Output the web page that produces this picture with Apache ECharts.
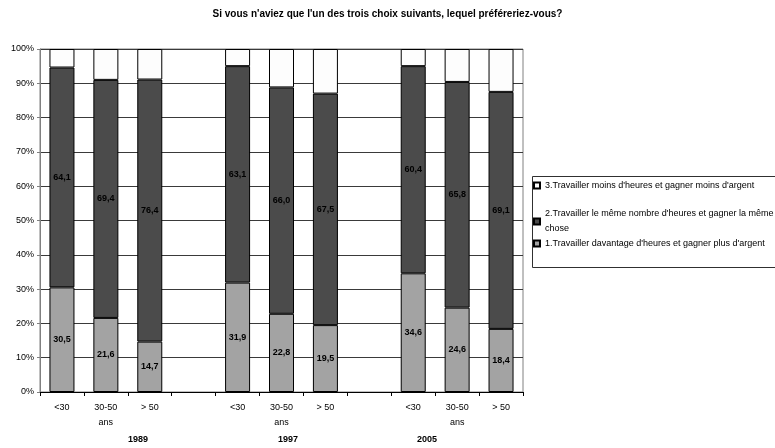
<!DOCTYPE html>
<html>
<head>
<meta charset="utf-8">
<script src="https://cdn.jsdelivr.net/npm/echarts@6/dist/echarts.min.js"></script>
<style>
  html, body { margin: 0; padding: 0; background: #fff; }
  #chart { width: 775px; height: 448px; }
</style>
</head>
<body>
<div id="chart"></div>
<script>
// Age groups per survey year; empty slots separate the years
const categories = ['<30', '30-50\nans', '> 50', '', '<30', '30-50\nans', '> 50', '', '<30', '30-50\nans', '> 50'];
const years = ['1989', '1997', '2005'];

const seriesNames = [
  '1.Travailler davantage d\'heures et gagner plus d\'argent',
  '2.Travailler le même nombre d\'heures et gagner la même chose',
  '3.Travailler moins d\'heures et gagner moins d\'argent'
];

// Shares in %
const plusValues  = [30.5, 21.6, 14.7, null, 31.9, 22.8, 19.5, null, 34.6, 24.6, 18.4];
const memeValues  = [64.1, 69.4, 76.4, null, 63.1, 66.0, 67.5, null, 60.4, 65.8, 69.1];
const moinsValues = [5.4, 9.0, 8.9, null, 5.0, 11.2, 13.0, null, 5.0, 9.6, 12.5];

const yTicks = { min: 0, max: 100, interval: 10 };

const FONT = '"Liberation Sans", Arial, sans-serif';
const fmt = v => v.toFixed(1).replace('.', ',');

const chart = echarts.init(document.getElementById('chart'), null, { renderer: 'canvas' });

const barBase = {
  type: 'bar',
  stack: 'total',
  barWidth: 25,
  itemStyle: { borderColor: '#000', borderWidth: 1 }
};

const legendBase = {
  orient: 'vertical',
  left: 533,
  padding: 0,
  icon: 'rect',
  itemWidth: 6,
  itemHeight: 6,
  itemGap: 4,
  selectedMode: false,
  textStyle: { fontFamily: FONT, fontSize: 9, color: '#000', lineHeight: 15 }
};

chart.setOption({
  animation: false,
  backgroundColor: '#fff',
  title: {
    text: 'Si vous n\'aviez que l\'un des trois choix suivants, lequel préféreriez-vous?',
    left: 'center',
    top: 4,
    textStyle: { fontFamily: FONT, fontSize: 10, fontWeight: 'bold', color: '#000' }
  },
  legend: [
    Object.assign({}, legendBase, { top: 178, data: [seriesNames[2]] }),
    Object.assign({}, legendBase, {
      top: 199,
      data: [seriesNames[1]],
      formatter: () => '2.Travailler le même nombre d\'heures et gagner la même\nchose',
      textStyle: Object.assign({}, legendBase.textStyle, { padding: [15, 0, 0, 0] })
    }),
    Object.assign({}, legendBase, { top: 236, data: [seriesNames[0]] })
  ],
  grid: {
    left: 40, right: 252, top: 49, bottom: 56,
    show: true, borderColor: '#808080', borderWidth: 1, backgroundColor: 'transparent'
  },
  xAxis: {
    type: 'category',
    data: categories,
    axisLine: { lineStyle: { color: '#000', width: 1 } },
    axisTick: { show: true, length: 4, lineStyle: { color: '#000' } },
    axisLabel: {
      interval: 0, fontFamily: FONT, fontSize: 9, color: '#000',
      margin: 8, lineHeight: 15
    }
  },
  yAxis: {
    type: 'value',
    min: yTicks.min, max: yTicks.max, interval: yTicks.interval,
    axisLine: { show: true, lineStyle: { color: '#808080' } },
    axisTick: { show: true, length: 3, lineStyle: { color: '#808080' } },
    axisLabel: { formatter: '{value}%', fontFamily: FONT, fontSize: 9, color: '#000', margin: 6 },
    splitLine: { lineStyle: { color: '#3a3a3a', width: 1 } }
  },
  series: [
    Object.assign({}, barBase, {
      name: seriesNames[0],
      data: plusValues,
      itemStyle: { color: '#a3a3a3', borderColor: '#000', borderWidth: 1 },
      label: {
        show: true, position: 'inside', formatter: p => fmt(p.value),
        fontFamily: FONT, fontSize: 9, fontWeight: 'bold', color: '#000'
      }
    }),
    Object.assign({}, barBase, {
      name: seriesNames[1],
      data: memeValues,
      itemStyle: { color: '#4b4b4b', borderColor: '#000', borderWidth: 1 },
      label: {
        show: true, position: 'inside', formatter: p => fmt(p.value),
        fontFamily: FONT, fontSize: 9, fontWeight: 'bold', color: '#000'
      }
    }),
    Object.assign({}, barBase, {
      name: seriesNames[2],
      data: moinsValues,
      itemStyle: { color: '#fdfdfd', borderColor: '#000', borderWidth: 1 }
    })
  ],
  graphic: [
    {
      type: 'rect',
      left: 530, top: 174,
      shape: { width: 243, height: 91 },
      style: { fill: 'none', stroke: '#303030', lineWidth: 1 },
      silent: true
    },
    { type: 'text', left: 128, top: 435, style: { text: years[0], font: 'bold 9px ' + FONT, fill: '#000' } },
    { type: 'text', left: 278, top: 435, style: { text: years[1], font: 'bold 9px ' + FONT, fill: '#000' } },
    { type: 'text', left: 417, top: 435, style: { text: years[2], font: 'bold 9px ' + FONT, fill: '#000' } }
  ]
});
</script>
</body>
</html>
